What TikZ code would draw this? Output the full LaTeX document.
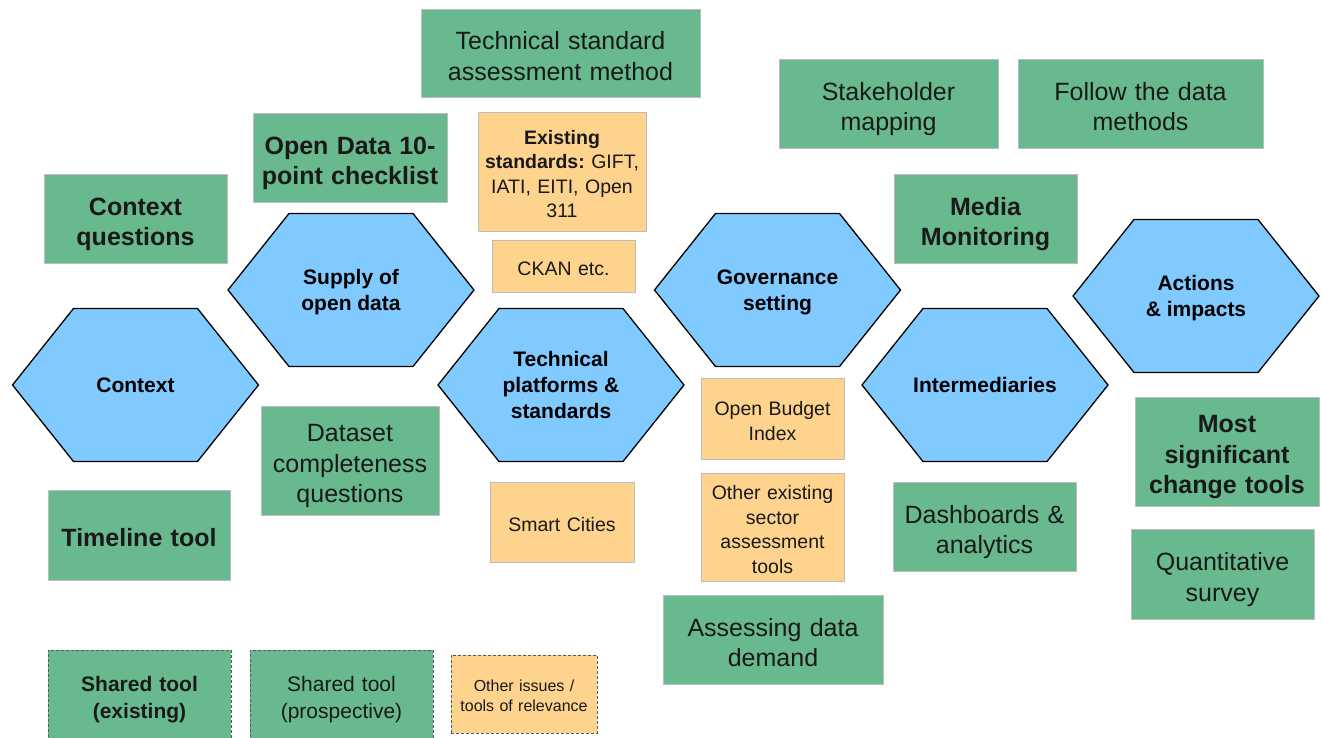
\documentclass[tikz,border=0pt]{standalone}
\usepackage{fontspec}
\setmainfont{Liberation Sans}
\frenchspacing

\definecolor{toolgreen}{HTML}{68BA8E}
\definecolor{stageblue}{HTML}{80CAFF}
\definecolor{issueorange}{HTML}{FED38E}
\definecolor{edgegrey}{HTML}{BDBDBD}

% a stage of the chain: flat-topped hexagon with its label
\newcommand{\stage}[3]{%
  \coordinate (#1-c) at (#2);
  \draw [stageline] ([xshift=-123pt]#1-c) -- ++(61pt,76.5pt) -- ++(124pt,0pt)
    -- ++(61pt,-76.5pt) -- ++(-61pt,-76.5pt) -- ++(-124pt,0pt) -- cycle;
  \node [stagetext] (#1) at (#1-c) {#3};
}

\begin{document}
\begin{tikzpicture}[x=1pt,y=-1pt,
  stageline/.style={fill=stageblue,draw=black,line width=1.3pt,line join=miter},
  stagetext/.style={align=center,font=\fontsize{21}{26}\selectfont\bfseries,text depth=0pt},
  size/.style 2 args={minimum width=#1pt,minimum height=#2pt,text width=#1pt-6pt},
  % struts keep the labels a little below the middle of their boxes
  box/.style={rectangle,draw=edgegrey,line width=0.8pt,align=center,inner sep=0pt,text=black!90,
    execute at begin node={\rule{0pt}{1.2em}},execute at end node={\rule[-0.25em]{0pt}{0.25em}}},
  existing/.style={box,fill=toolgreen,font=\fontsize{25}{30.5}\selectfont\bfseries},
  prospective/.style={box,fill=toolgreen,font=\fontsize{25}{30.5}\selectfont},
  issue/.style={box,fill=issueorange,font=\fontsize{19.5}{24.5}\selectfont},
  legend/.style={draw=black!65,dashed,dash pattern=on 3pt off 2pt}]
\useasboundingbox (0,0) rectangle (1322,737);

% stages
\stage{context}{135.5,385}{Context}
\stage{supply}{351,290}{Supply of\\open data}
\stage{platforms}{561,385}{Technical\\platforms \&\\standards}
\stage{governance}{777.5,290}{Governance\\setting}
\stage{intermediaries}{985,385}{Intermediaries}
\stage{actions}{1196,296}{Actions\\\& impacts}

% tools
\node [prospective,size={279}{88}] (techmethod) at (560.5,53) {Technical standard\\assessment method};
\node [prospective,size={219}{89}] (stakeholders) at (888.5,103.5) {Stakeholder\\mapping};
\node [prospective,size={245}{89}] (followdata) at (1140.5,103.5) {Follow the data\\methods};
\node [existing,size={194}{89}] (checklist) at (350,157.5) {Open Data 10-\\point checklist};
\node [existing,size={183}{89}] (contextq) at (135.5,218.5) {Context\\questions};
\node [existing,size={183}{89}] (media) at (985.5,218.5) {Media\\Monitoring};
\node [prospective,size={178}{109}] (completeness) at (350,460.5) {Dataset\\completeness\\questions};
\node [existing,size={182}{90}] (timeline) at (139,535) {Timeline tool};
\node [existing,size={184}{109}] (significant) at (1227,451.5) {Most\\significant\\change tools};
\node [prospective,size={183}{89}] (dashboards) at (984.5,526.5) {Dashboards \&\\analytics};
\node [prospective,size={183}{90}] (survey) at (1222.5,574) {Quantitative\\survey};
\node [prospective,size={220}{89}] (demand) at (773,639.5) {Assessing data\\demand};

% other issues
\node [issue,size={168}{119}] (standards) at (562,171.5) {\textbf{Existing}\\\textbf{standards:} GIFT,\\IATI, EITI, Open\\311};
\node [issue,size={143}{52}] (ckan) at (563.5,266) {CKAN etc.};
\node [issue,size={143}{81}] (budget) at (772.5,418.5) {Open Budget\\Index};
\node [issue,size={143}{108}] (sectortools) at (772.5,527) {Other existing\\sector\\assessment\\tools};
\node [issue,size={144}{80}] (smartcities) at (562,522) {Smart Cities};

% key
\node [existing,legend,size={183}{90},font=\fontsize{21}{27}\selectfont\bfseries] (keyexisting) at (139.5,695) {Shared tool\\(existing)};
\node [prospective,legend,size={183}{90},font=\fontsize{21}{27}\selectfont] (keyprospective) at (341.5,695) {Shared tool\\(prospective)};
\node [issue,legend,size={146}{78},font=\fontsize{16}{20}\selectfont] (keyissue) at (524,694) {Other issues /\\tools of relevance};
\end{tikzpicture}
\end{document}
